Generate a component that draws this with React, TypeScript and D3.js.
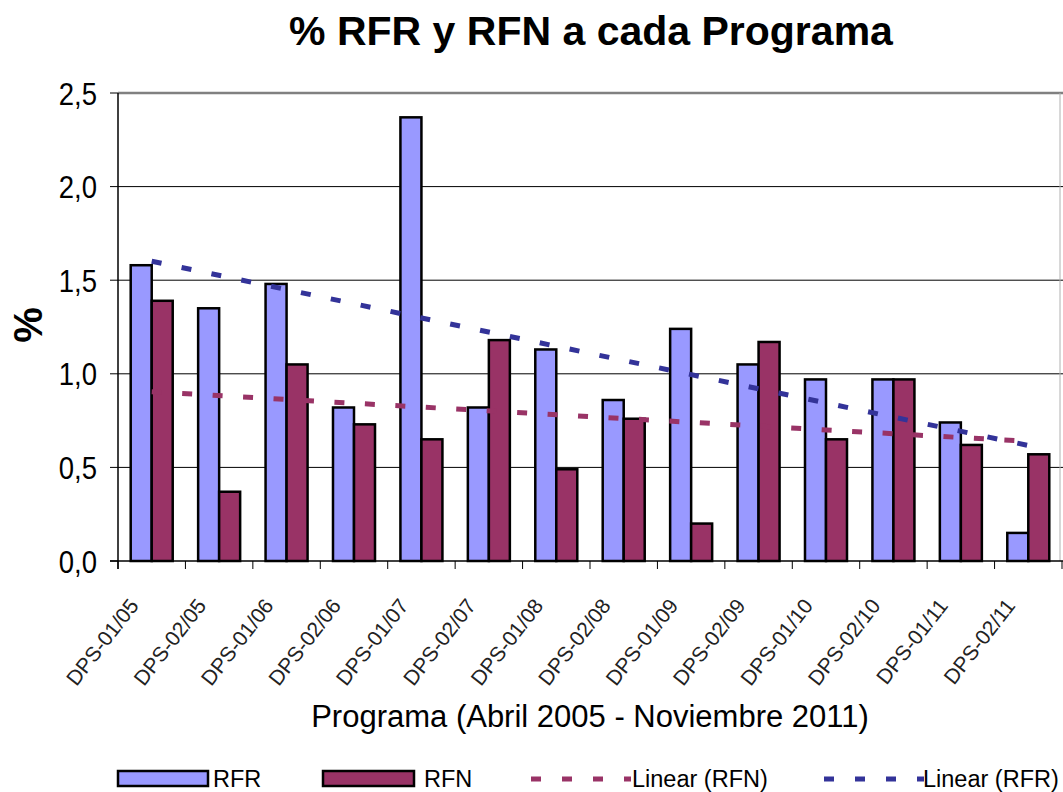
import React from 'react';
import * as d3 from 'd3';

const categories = [
  'DPS-01/05', 'DPS-02/05', 'DPS-01/06', 'DPS-02/06', 'DPS-01/07', 'DPS-02/07', 'DPS-01/08',
  'DPS-02/08', 'DPS-01/09', 'DPS-02/09', 'DPS-01/10', 'DPS-02/10', 'DPS-01/11', 'DPS-02/11',
];
const rfr = [1.58, 1.35, 1.48, 0.82, 2.37, 0.82, 1.13, 0.86, 1.24, 1.05, 0.97, 0.97, 0.74, 0.15];
const rfn = [1.39, 0.37, 1.05, 0.73, 0.65, 1.18, 0.49, 0.76, 0.2, 1.17, 0.65, 0.97, 0.62, 0.57];
const yTicks = [0, 0.5, 1, 1.5, 2, 2.5];
const seriesNames = ['RFR', 'RFN'];

const W = 1063;
const H = 792;
const FONT = '"Liberation Sans", Arial, Helvetica, sans-serif';
const RFR_COLOR = '#9999FF';
const RFN_COLOR = '#993366';
const RFR_TREND = '#333399';

// least squares line over category index 1..n (like Excel's linear trendline)
function linearFit(vals: number[]) {
  const xs = vals.map((_, i) => i + 1);
  const mx = d3.mean(xs) as number;
  const my = d3.mean(vals) as number;
  const sxy = d3.sum(vals, (v, i) => (xs[i] - mx) * (v - my));
  const sxx = d3.sum(xs, (v) => (v - mx) * (v - mx));
  const slope = sxy / sxx;
  return (xi: number) => my + slope * (xi - mx);
}

const App: React.FC = () => {
  const left = 118;
  const right = 1062;
  const top = 93;
  const bottom = 561;

  const x = d3.scaleBand<string>().domain(categories).range([left, right])
    .paddingInner(0.377).paddingOuter(0.1885);
  const x1 = d3.scaleBand<string>().domain(seriesNames).range([0, x.bandwidth()]);
  const y = d3.scaleLinear().domain([0, 2.5]).range([bottom, top]);
  const step = x.step();
  const cx = (c: string) => (x(c) as number) + x.bandwidth() / 2;
  const fmt = (v: number) => d3.format('.1f')(v).replace('.', ',');

  const trendLine = (vals: number[]) => {
    const f = linearFit(vals);
    const line = d3.line<string>()
      .x((c) => cx(c))
      .y((c) => y(f(categories.indexOf(c) + 1)));
    return line([categories[0], categories[categories.length - 1]]) || '';
  };

  const bars = [
    { name: 'RFR', vals: rfr, color: RFR_COLOR },
    { name: 'RFN', vals: rfn, color: RFN_COLOR },
  ];

  return (
    <svg width={W} height={H} style={{ position: 'absolute', left: 0, top: 0, background: '#fff' }}
      fontFamily={FONT}>
      {/* title */}
      <text x={591} y={45} textAnchor="middle" fontSize={41} fontWeight="bold" fill="#000">
        %  RFR y RFN a cada Programa
      </text>

      {/* gridlines */}
      {yTicks.slice(1, -1).map((t) => (
        <line key={t} x1={left} x2={W} y1={y(t)} y2={y(t)} stroke="#000" strokeWidth={1} />
      ))}
      <line x1={left} x2={W} y1={y(2.5)} y2={y(2.5)} stroke="#808080" strokeWidth={2.5} />
      <line x1={1060} x2={1060} y1={top} y2={bottom} stroke="#b0b0b0" strokeWidth={1} />

      {/* bars */}
      {bars.map((s) => (
        <g key={s.name}>
          {categories.map((c, i) => (
            <rect key={c} x={(x(c) as number) + (x1(s.name) as number)} y={y(s.vals[i])}
              width={x1.bandwidth()} height={bottom - y(s.vals[i])}
              fill={s.color} stroke="#000" strokeWidth={2.5} />
          ))}
        </g>
      ))}

      {/* axes */}
      <line x1={left} x2={left} y1={top} y2={bottom + 8} stroke="#000" strokeWidth={1.5} />
      <line x1={left - 8} x2={W} y1={bottom} y2={bottom} stroke="#000" strokeWidth={1.5} />
      {yTicks.map((t) => (
        <g key={t}>
          <line x1={left - 8} x2={left} y1={y(t)} y2={y(t)} stroke="#000" strokeWidth={1} />
          <text x={97} y={y(t)} dy="0.36em" textAnchor="end" fontSize={32} fill="#000"
            transform={`translate(97,0) scale(0.86,1) translate(-97,0)`}>
            {fmt(t)}
          </text>
        </g>
      ))}
      {d3.range(categories.length + 1).map((i) => (
        <line key={i} x1={left + i * step} x2={left + i * step} y1={bottom} y2={bottom + 8}
          stroke="#000" strokeWidth={1} />
      ))}
      {categories.map((c) => (
        <text key={c} transform={`translate(${cx(c) - 12},${606}) rotate(-52)`} textAnchor="end"
          fontSize={21} fill="#222">
          {c}
        </text>
      ))}

      {/* trend lines */}
      <path d={trendLine(rfn)} fill="none" stroke={RFN_COLOR} strokeWidth={5} strokeDasharray="10 20.5" />
      <path d={trendLine(rfr)} fill="none" stroke={RFR_TREND} strokeWidth={5} strokeDasharray="10 20.5" />

      {/* axis titles */}
      <text transform="translate(42,325) rotate(-90)" textAnchor="middle" fontSize={40}
        fontWeight="bold" fill="#000">%</text>
      <text x={590} y={727} textAnchor="middle" fontSize={31} fill="#000">
        Programa (Abril 2005 - Noviembre 2011)
      </text>

      {/* legend */}
      <g fontSize={23.5} fill="#000">
        <rect x={118} y={771} width={90} height={15} fill={RFR_COLOR} stroke="#000" strokeWidth={2.5} />
        <text x={213} y={787}>RFR</text>
        <rect x={323} y={771} width={91} height={15} fill={RFN_COLOR} stroke="#000" strokeWidth={2.5} />
        <text x={424} y={787}>RFN</text>
        <line x1={531} x2={631} y1={779} y2={779} stroke={RFN_COLOR} strokeWidth={5} strokeDasharray="10 21" />
        <text x={632} y={787}>Linear (RFN)</text>
        <line x1={824} x2={924} y1={779} y2={779} stroke={RFR_TREND} strokeWidth={5} strokeDasharray="10 21" />
        <text x={923} y={787}>Linear (RFR)</text>
      </g>
    </svg>
  );
};

export default App;
